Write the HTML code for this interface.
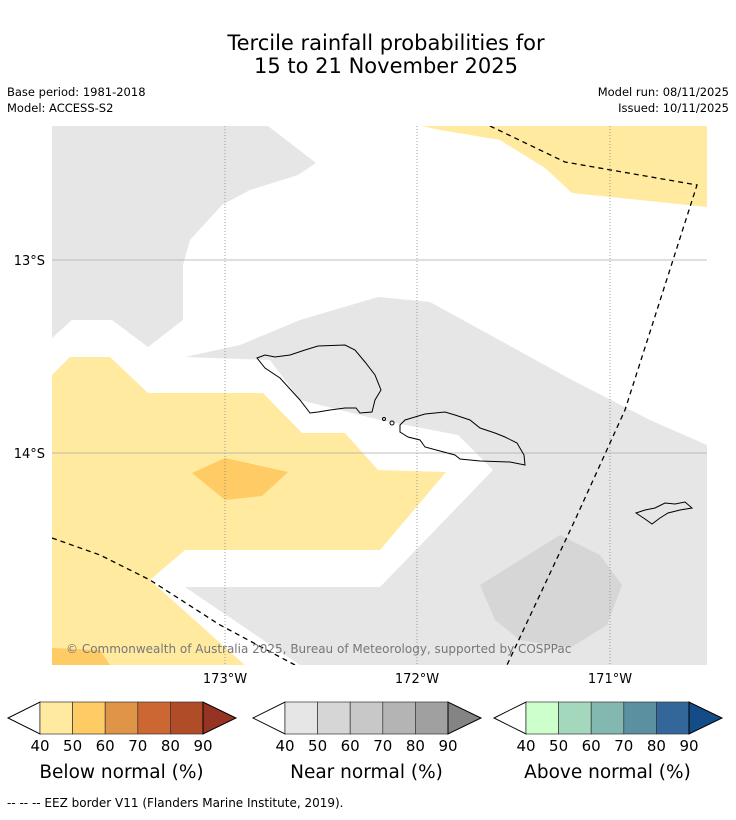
<!DOCTYPE html>
<html><head><meta charset="utf-8"><style>
body{margin:0;background:#fff;width:736px;height:816px;overflow:hidden;font-family:"DejaVu Sans","Liberation Sans",sans-serif;}
svg text{font-family:"DejaVu Sans","Liberation Sans",sans-serif;}
</style></head><body>
<svg width="736" height="816">
<text x="386" y="50" font-size="21" text-anchor="middle">Tercile rainfall probabilities for</text>
<text x="386" y="73" font-size="21" text-anchor="middle">15 to 21 November 2025</text>
<text x="7" y="96" font-size="11.5">Base period: 1981-2018</text>
<text x="7" y="112" font-size="11.5">Model: ACCESS-S2</text>
<text x="729" y="96" font-size="11.5" text-anchor="end">Model run: 08/11/2025</text>
<text x="729" y="112" font-size="11.5" text-anchor="end">Issued: 10/11/2025</text>
<defs><clipPath id="mc"><rect x="52" y="126" width="655" height="539"/></clipPath></defs>
<g clip-path="url(#mc)">
<rect x="52" y="126" width="655" height="539" fill="#fff"/>
<polygon fill="#e6e6e6" points="52,126 268,126 316,163 298,175 250,190 222,205 190,240 183,265 183,320 148,347 112,320 72,320 52,338"/>
<polygon fill="#ffeaa0" points="422,126 707,126 707,207 572,193 545,168 500,140 440,130"/>
<polygon fill="#e6e6e6" points="185,357 240,345 300,320 378,297 430,302 572,380 650,420 707,445 707,665 300,665 185,587 380,587 440,525 493,470 458,435 380,420 340,410 300,400 270,360"/>
<polygon fill="#d6d6d6" points="480,585 560,535 600,555 622,585 607,625 570,648 520,640 495,620"/>
<polygon fill="#ffeaa0" points="52,375 70,357 110,357 148,393 263,393 302,433 345,433 378,470 446,472 380,550 185,550 150,580 200,625 245,665 52,665"/>
<polygon fill="#fecb65" points="192,473 225,458 288,472 262,496 225,500"/>
<polygon fill="#fecb65" points="52,648 100,650 110,665 52,665"/>
<g stroke="#888" stroke-width="0.8">
<line x1="225" y1="126" x2="225" y2="665" stroke-dasharray="1,2"/>
<line x1="417" y1="126" x2="417" y2="665" stroke-dasharray="1,2"/>
<line x1="610" y1="126" x2="610" y2="665" stroke-dasharray="1,2"/>
<line x1="52" y1="260" x2="707" y2="260" stroke="#aaa"/>
<line x1="52" y1="453" x2="707" y2="453" stroke="#aaa"/>
</g>
<g fill="none" stroke="#000" stroke-width="1">
<polygon points="257,358 265,355 275,357 290,355 305,350 318,346 345,345 355,350 365,362 375,375 381,390 375,400 372,412 360,413 356,408 345,408 330,410 318,412 310,413 300,400 280,378 265,368"/>
<polygon points="400,425 405,420 415,417 425,414 445,412 455,415 470,420 480,428 495,433 505,437 517,443 524,455 525,465 510,462 480,461 460,459 455,455 440,451 425,447 420,440 408,437 400,432"/>
<polygon points="636,513 645,510 655,508 665,503 675,504 685,502 692,508 680,510 668,513 660,518 652,524 645,519"/>
<circle cx="384" cy="419" r="1.5"/><circle cx="392" cy="423" r="2"/>
</g>
<g fill="none" stroke="#000" stroke-width="1.3" stroke-dasharray="5,4">
<polyline points="490,126 565,162 697,185 625,410 575,520 507,665"/>
<polyline points="52,538 100,555 150,580 220,625 295,665"/>
</g>
<text x="66" y="653" font-size="12" fill="#777">© Commonwealth of Australia 2025, Bureau of Meteorology, supported by COSPPac</text>
</g>
<g font-size="13" text-anchor="middle">
<text x="225" y="683">173°W</text><text x="417" y="683">172°W</text><text x="610" y="683">171°W</text>
</g>
<g font-size="13" text-anchor="end">
<text x="45" y="265">13°S</text><text x="45" y="458">14°S</text>
</g>
<g id="cbars"></g>
<text x="7" y="807" font-size="12">-- -- -- EEZ border V11 (Flanders Marine Institute, 2019).</text>
</svg>
<script>
const ticks=[40,50,60,70,80,90];
const belowColors=["#ffeaa0","#fecb65","#e09448","#cc6633","#b04c27","#963322"];
const nearColors=["#e6e6e6","#d6d6d6","#c8c8c8","#b4b4b4","#a0a0a0","#848484"];
const aboveColors=["#ccffcc","#a4d8bc","#82b8b0","#5a90a0","#336699","#144c88"];
const titles=["Below normal (%)","Near normal (%)","Above normal (%)"];
const NS="http://www.w3.org/2000/svg";
const g=document.getElementById('cbars');
function mk(t,a,p){const e=document.createElementNS(NS,t);for(const k in a)e.setAttribute(k,a[k]);p.appendChild(e);return e;}
[[40,belowColors],[285,nearColors],[526,aboveColors]].forEach((b,i)=>{
 const x0=b[0],cols=b[1],w=32.6,y0=702,h=32;
 const bar=mk('g',{},g);
 
 
 const lt=mk('polygon',{points:`${x0},${y0} ${x0},${y0+h} ${x0-32},${y0+h/2}`,fill:'#fff',stroke:'#000'},bar);
 
 
 for(let k=0;k<5;k++){const r=mk('rect',{x:x0+k*w,y:y0,width:w,height:h,fill:cols[k],stroke:'#333','stroke-width':0.7},bar);
  
  }
 const xe=x0+5*w;
 const rt=mk('polygon',{points:`${xe},${y0} ${xe},${y0+h} ${xe+33},${y0+h/2}`,fill:cols[5],stroke:'#000'},bar);
 
 
 ticks.forEach((t,k)=>{const tx=mk('text',{x:x0+k*w,y:751,'font-size':15,'text-anchor':'middle'},bar);tx.textContent=t;
  
  });
 const tt=mk('text',{x:x0+2.5*w,y:778,'font-size':18.5,'text-anchor':'middle'},bar);tt.textContent=titles[i];
 
 
});
</script>
</body></html>
